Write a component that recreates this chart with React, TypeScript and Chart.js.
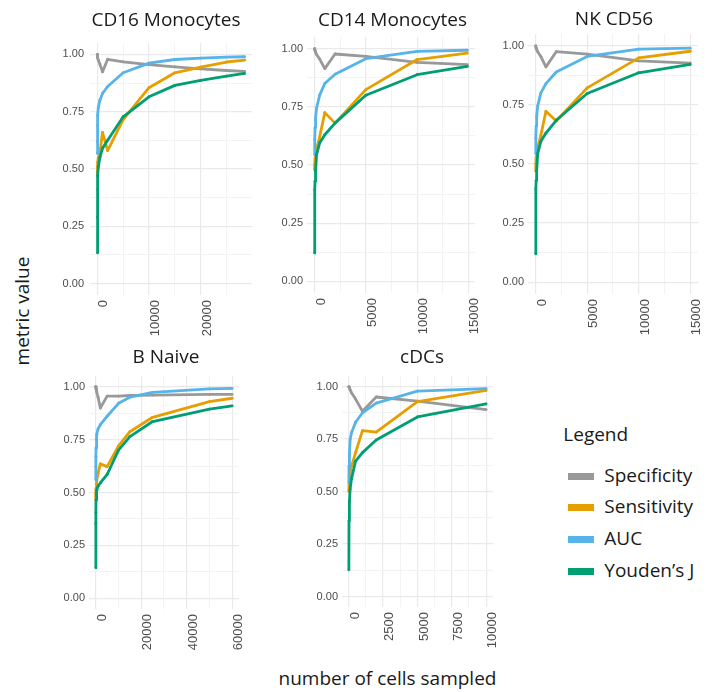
import { useEffect, useRef } from "react";
import { Chart, registerables } from "chart.js";

Chart.register(...registerables);

// ---- metrics shown in every panel ----
const metricNames = ["Specificity", "Sensitivity", "AUC", "Youden’s J"];
const metricColors = ["#999999", "#E69F00", "#56B4E9", "#009E73"];

// ---- CD16 Monocytes ----
const cd16Cells = [10, 20, 50, 100, 200, 500, 1000, 2000, 5000, 10000, 15000, 20000, 25000, 28500];
const cd16Specificity = [1.0, 0.996, 0.99, 0.984, 0.975, 0.958, 0.924, 0.979, 0.968, 0.956, 0.946, 0.937, 0.93, 0.926];
const cd16Sensitivity = [0.47, 0.49, 0.51, 0.53, 0.55, 0.57, 0.66, 0.58, 0.715, 0.855, 0.92, 0.945, 0.967, 0.975];
const cd16Auc = [0.568, 0.62, 0.69, 0.735, 0.77, 0.8, 0.83, 0.86, 0.92, 0.962, 0.978, 0.984, 0.988, 0.99];
const cd16Youden = [0.134, 0.29, 0.41, 0.47, 0.51, 0.55, 0.59, 0.625, 0.728, 0.815, 0.865, 0.887, 0.905, 0.917];

// ---- CD14 Monocytes ----
const cd14Cells = [10, 20, 50, 100, 200, 500, 1000, 2000, 5000, 10000, 14900];
const cd14Specificity = [1.0, 0.996, 0.99, 0.984, 0.975, 0.955, 0.914, 0.977, 0.967, 0.941, 0.931];
const cd14Sensitivity = [0.48, 0.5, 0.53, 0.55, 0.57, 0.62, 0.725, 0.68, 0.824, 0.953, 0.981];
const cd14Auc = [0.544, 0.61, 0.66, 0.7, 0.745, 0.8, 0.85, 0.89, 0.957, 0.988, 0.993];
const cd14Youden = [0.122, 0.394, 0.43, 0.473, 0.545, 0.595, 0.63, 0.68, 0.8, 0.888, 0.924];

// ---- NK CD56 ----
const nkCells = [10, 20, 50, 100, 200, 500, 1000, 2000, 5000, 10000, 15000];
const nkSpecificity = [1.0, 0.996, 0.99, 0.984, 0.975, 0.955, 0.911, 0.975, 0.965, 0.936, 0.927];
const nkSensitivity = [0.47, 0.5, 0.53, 0.55, 0.57, 0.62, 0.723, 0.682, 0.822, 0.949, 0.977];
const nkAuc = [0.544, 0.61, 0.66, 0.7, 0.745, 0.8, 0.84, 0.889, 0.955, 0.986, 0.99];
const nkYouden = [0.12, 0.395, 0.43, 0.47, 0.544, 0.595, 0.631, 0.685, 0.798, 0.886, 0.921];

// ---- B Naive ----
const bNaiveCells = [10, 20, 50, 100, 200, 500, 1000, 2000, 5000, 10000, 15000, 25000, 50000, 60000];
const bNaiveSpecificity = [1.0, 0.998, 0.995, 0.99, 0.985, 0.975, 0.95, 0.899, 0.955, 0.955, 0.958, 0.96, 0.963, 0.963];
const bNaiveSensitivity = [0.465, 0.48, 0.5, 0.52, 0.54, 0.555, 0.59, 0.635, 0.622, 0.72, 0.787, 0.855, 0.929, 0.945];
const bNaiveAuc = [0.56, 0.62, 0.67, 0.71, 0.75, 0.773, 0.8, 0.82, 0.86, 0.921, 0.95, 0.973, 0.989, 0.992];
const bNaiveYouden = [0.145, 0.354, 0.405, 0.465, 0.49, 0.51, 0.53, 0.545, 0.585, 0.7, 0.764, 0.835, 0.894, 0.909];

// ---- cDCs ----
const cdcCells = [10, 20, 50, 100, 200, 500, 1000, 2000, 5000, 10000];
const cdcSpecificity = [1.0, 0.997, 0.993, 0.985, 0.97, 0.94, 0.882, 0.95, 0.93, 0.89];
const cdcSensitivity = [0.5, 0.53, 0.56, 0.59, 0.62, 0.685, 0.79, 0.783, 0.928, 0.981];
const cdcAuc = [0.54, 0.62, 0.675, 0.747, 0.78, 0.83, 0.875, 0.921, 0.978, 0.99];
const cdcYouden = [0.127, 0.36, 0.45, 0.51, 0.56, 0.645, 0.685, 0.745, 0.855, 0.917];

// ---- axis breaks ----
const cd16Breaks = [0, 10000, 20000];
const cd14Breaks = [0, 5000, 10000, 15000];
const nkBreaks = [0, 5000, 10000, 15000];
const bNaiveBreaks = [0, 20000, 40000, 60000];
const cdcBreaks = [0, 2500, 5000, 7500, 10000];
const metricBreaks = [0, 0.25, 0.5, 0.75, 1];

// ---- layout ----
const Y_AXIS_W = 44;
const X_AXIS_H = 50;
const PAD_TOP = 14;
const PAD_RIGHT = 20;
const GRID_MAJOR = "#EAEAEA";
const GRID_MINOR = "#F3F3F3";
const TEXT_FONT = "'Open Sans', 'DejaVu Sans', sans-serif";
const TICK_FONT = "'Liberation Sans', Arial, sans-serif";

type Box = { left: number; top: number; width: number; height: number };
type Panel = {
  title: string;
  cells: number[];
  series: number[][];
  breaks: number[];
  box: Box;
  titleX: number;
  titleBaseline: number;
  labelGap: number;
};

const panels: Panel[] = [
  {
    title: "CD16 Monocytes",
    cells: cd16Cells,
    series: [cd16Specificity, cd16Sensitivity, cd16Auc, cd16Youden],
    breaks: cd16Breaks,
    box: { left: 90, top: 43, width: 162, height: 252 },
    titleX: 166,
    titleBaseline: 26.7,
    labelGap: 6,
  },
  {
    title: "CD14 Monocytes",
    cells: cd14Cells,
    series: [cd14Specificity, cd14Sensitivity, cd14Auc, cd14Youden],
    breaks: cd14Breaks,
    box: { left: 307, top: 37, width: 168, height: 256 },
    titleX: 392.5,
    titleBaseline: 26.7,
    labelGap: 4,
  },
  {
    title: "NK CD56",
    cells: nkCells,
    series: [nkSpecificity, nkSensitivity, nkAuc, nkYouden],
    breaks: nkBreaks,
    box: { left: 528, top: 34, width: 170, height: 260 },
    titleX: 614,
    titleBaseline: 26,
    labelGap: 4,
  },
  {
    title: "B Naive",
    cells: bNaiveCells,
    series: [bNaiveSpecificity, bNaiveSensitivity, bNaiveAuc, bNaiveYouden],
    breaks: bNaiveBreaks,
    box: { left: 89, top: 376, width: 150, height: 233 },
    titleX: 166,
    titleBaseline: 364,
    labelGap: 4,
  },
  {
    title: "cDCs",
    cells: cdcCells,
    series: [cdcSpecificity, cdcSensitivity, cdcAuc, cdcYouden],
    breaks: cdcBreaks,
    box: { left: 342, top: 376, width: 151, height: 231 },
    titleX: 422,
    titleBaseline: 364,
    labelGap: 4,
  },
];

// major breaks plus the half-way minor breaks that fall inside [lo, hi]
function withMinor(majors: number[], lo: number, hi: number): number[] {
  const step = majors[1] - majors[0];
  const all = new Set<number>(majors);
  for (let v = majors[0] - step / 2; v <= hi; v += step) {
    if (v >= lo) all.add(v);
  }
  return [...all].filter((v) => v >= lo && v <= hi).sort((a, b) => a - b);
}

function PanelChart({ panel }: { panel: Panel }) {
  const ref = useRef<HTMLCanvasElement | null>(null);
  const { box } = panel;
  const cw = Y_AXIS_W + box.width + PAD_RIGHT;
  const ch = PAD_TOP + box.height + X_AXIS_H;

  useEffect(() => {
    const canvas = ref.current;
    if (!canvas) return;
    const xMin = Math.min(...panel.cells);
    const xMax = Math.max(...panel.cells);
    const xPad = (xMax - xMin) * 0.05;
    const xLo = xMin - xPad;
    const xHi = xMax + xPad;
    const yLo = -0.05;
    const yHi = 1.05;
    const xMajors = new Set(panel.breaks);
    const yMajors = new Set(metricBreaks);
    const xTicks = withMinor(panel.breaks, xLo, xHi);
    const yTicks = withMinor(metricBreaks, yLo, yHi);

    const chart = new Chart(canvas, {
      type: "line",
      data: {
        datasets: panel.series.map((vals, k) => ({
          label: metricNames[k],
          data: panel.cells.map((c, i) => ({ x: c, y: vals[i] })),
          borderColor: metricColors[k],
          backgroundColor: metricColors[k],
          pointBackgroundColor: metricColors[k],
          borderWidth: 2.8,
          pointRadius: 1.4,
          pointBorderWidth: 0,
          pointHoverRadius: 0,
          tension: 0,
          borderJoinStyle: "round" as const,
          order: metricNames.length - k,
        })),
      },
      options: {
        animation: false,
        responsive: false,
        devicePixelRatio: 1,
        events: [],
        layout: { padding: { top: PAD_TOP, right: PAD_RIGHT, left: 0, bottom: 0 } },
        plugins: {
          legend: { display: false },
          tooltip: { enabled: false },
          title: { display: false },
        },
        scales: {
          x: {
            type: "linear",
            min: xLo,
            max: xHi,
            afterBuildTicks: (s: any) => {
              s.ticks = xTicks.map((v) => ({ value: v }));
            },
            afterFit: (s: any) => {
              s.height = X_AXIS_H;
            },
            border: { display: false },
            grid: {
              drawTicks: false,
              color: (ctx: any) => (xMajors.has(ctx.tick?.value) ? GRID_MAJOR : GRID_MINOR),
              lineWidth: (ctx: any) => (xMajors.has(ctx.tick?.value) ? 1.2 : 1),
            },
            ticks: {
              autoSkip: false,
              minRotation: 90,
              maxRotation: 90,
              padding: 5,
              labelOffset: 6.5,
              color: "#4D4D4D",
              font: { family: TICK_FONT, size: 13 },
              callback: (v: any) => (xMajors.has(Number(v)) ? String(v) : ""),
            },
          },
          y: {
            type: "linear",
            min: yLo,
            max: yHi,
            afterBuildTicks: (s: any) => {
              s.ticks = yTicks.map((v) => ({ value: v }));
            },
            afterFit: (s: any) => {
              s.width = Y_AXIS_W;
            },
            border: { display: false },
            grid: {
              drawTicks: false,
              color: (ctx: any) => (yMajors.has(ctx.tick?.value) ? GRID_MAJOR : GRID_MINOR),
              lineWidth: (ctx: any) => (yMajors.has(ctx.tick?.value) ? 1.2 : 1),
            },
            ticks: {
              autoSkip: false,
              padding: panel.labelGap,
              color: "#4D4D4D",
              font: { family: TICK_FONT, size: 11 },
              callback: (v: any) => (yMajors.has(Number(v)) ? Number(v).toFixed(2) : ""),
            },
          },
        },
      },
    } as any);
    return () => chart.destroy();
  }, [panel]);

  return (
    <canvas
      ref={ref}
      width={cw}
      height={ch}
      style={{
        position: "absolute",
        left: box.left - Y_AXIS_W,
        top: box.top - PAD_TOP,
        width: cw,
        height: ch,
      }}
    />
  );
}

// text placed by its alphabetic baseline (Open Sans: baseline sits 0.888em below the top of a 1em line box)
function Label({
  text,
  x,
  baseline,
  size = 19,
  align = "left",
}: {
  text: string;
  x: number;
  baseline: number;
  size?: number;
  align?: "left" | "center";
}) {
  return (
    <div
      style={{
        position: "absolute",
        left: x,
        top: baseline - size * 0.888,
        transform: align === "center" ? "translateX(-50%)" : undefined,
        fontFamily: TEXT_FONT,
        fontSize: size,
        lineHeight: `${size}px`,
        color: "#1A1A1A",
        whiteSpace: "nowrap",
      }}
    >
      {text}
    </div>
  );
}

const legendTitleBaseline = 441.7;
const legendItemBaselines = [482.7, 514.3, 546.3, 578.3];

export default function App() {
  return (
    <div
      style={{
        position: "absolute",
        left: 0,
        top: 0,
        width: 716,
        height: 692,
        background: "#FFFFFF",
        overflow: "hidden",
      }}
    >
      {panels.map((p) => (
        <PanelChart key={p.title} panel={p} />
      ))}
      {panels.map((p) => (
        <Label key={p.title + "-t"} text={p.title} x={p.titleX} baseline={p.titleBaseline} align="center" />
      ))}

      {/* shared axis titles */}
      <div
        style={{
          position: "absolute",
          left: 22,
          top: 311,
          transform: "translate(-50%, -50%) rotate(-90deg)",
          fontFamily: TEXT_FONT,
          fontSize: 19,
          lineHeight: "19px",
          color: "#1A1A1A",
          whiteSpace: "nowrap",
        }}
      >
        metric value
      </div>
      <Label text="number of cells sampled" x={387.5} baseline={686} align="center" />

      {/* legend */}
      <Label text="Legend" x={563.3} baseline={legendTitleBaseline} />
      {metricNames.map((name, k) => (
        <div key={name}>
          <div
            style={{
              position: "absolute",
              left: 568.3,
              top: legendItemBaselines[k] - 10,
              width: 26,
              height: 7,
              background: metricColors[k],
            }}
          />
          <Label text={name} x={604.3} baseline={legendItemBaselines[k]} />
        </div>
      ))}
    </div>
  );
}
